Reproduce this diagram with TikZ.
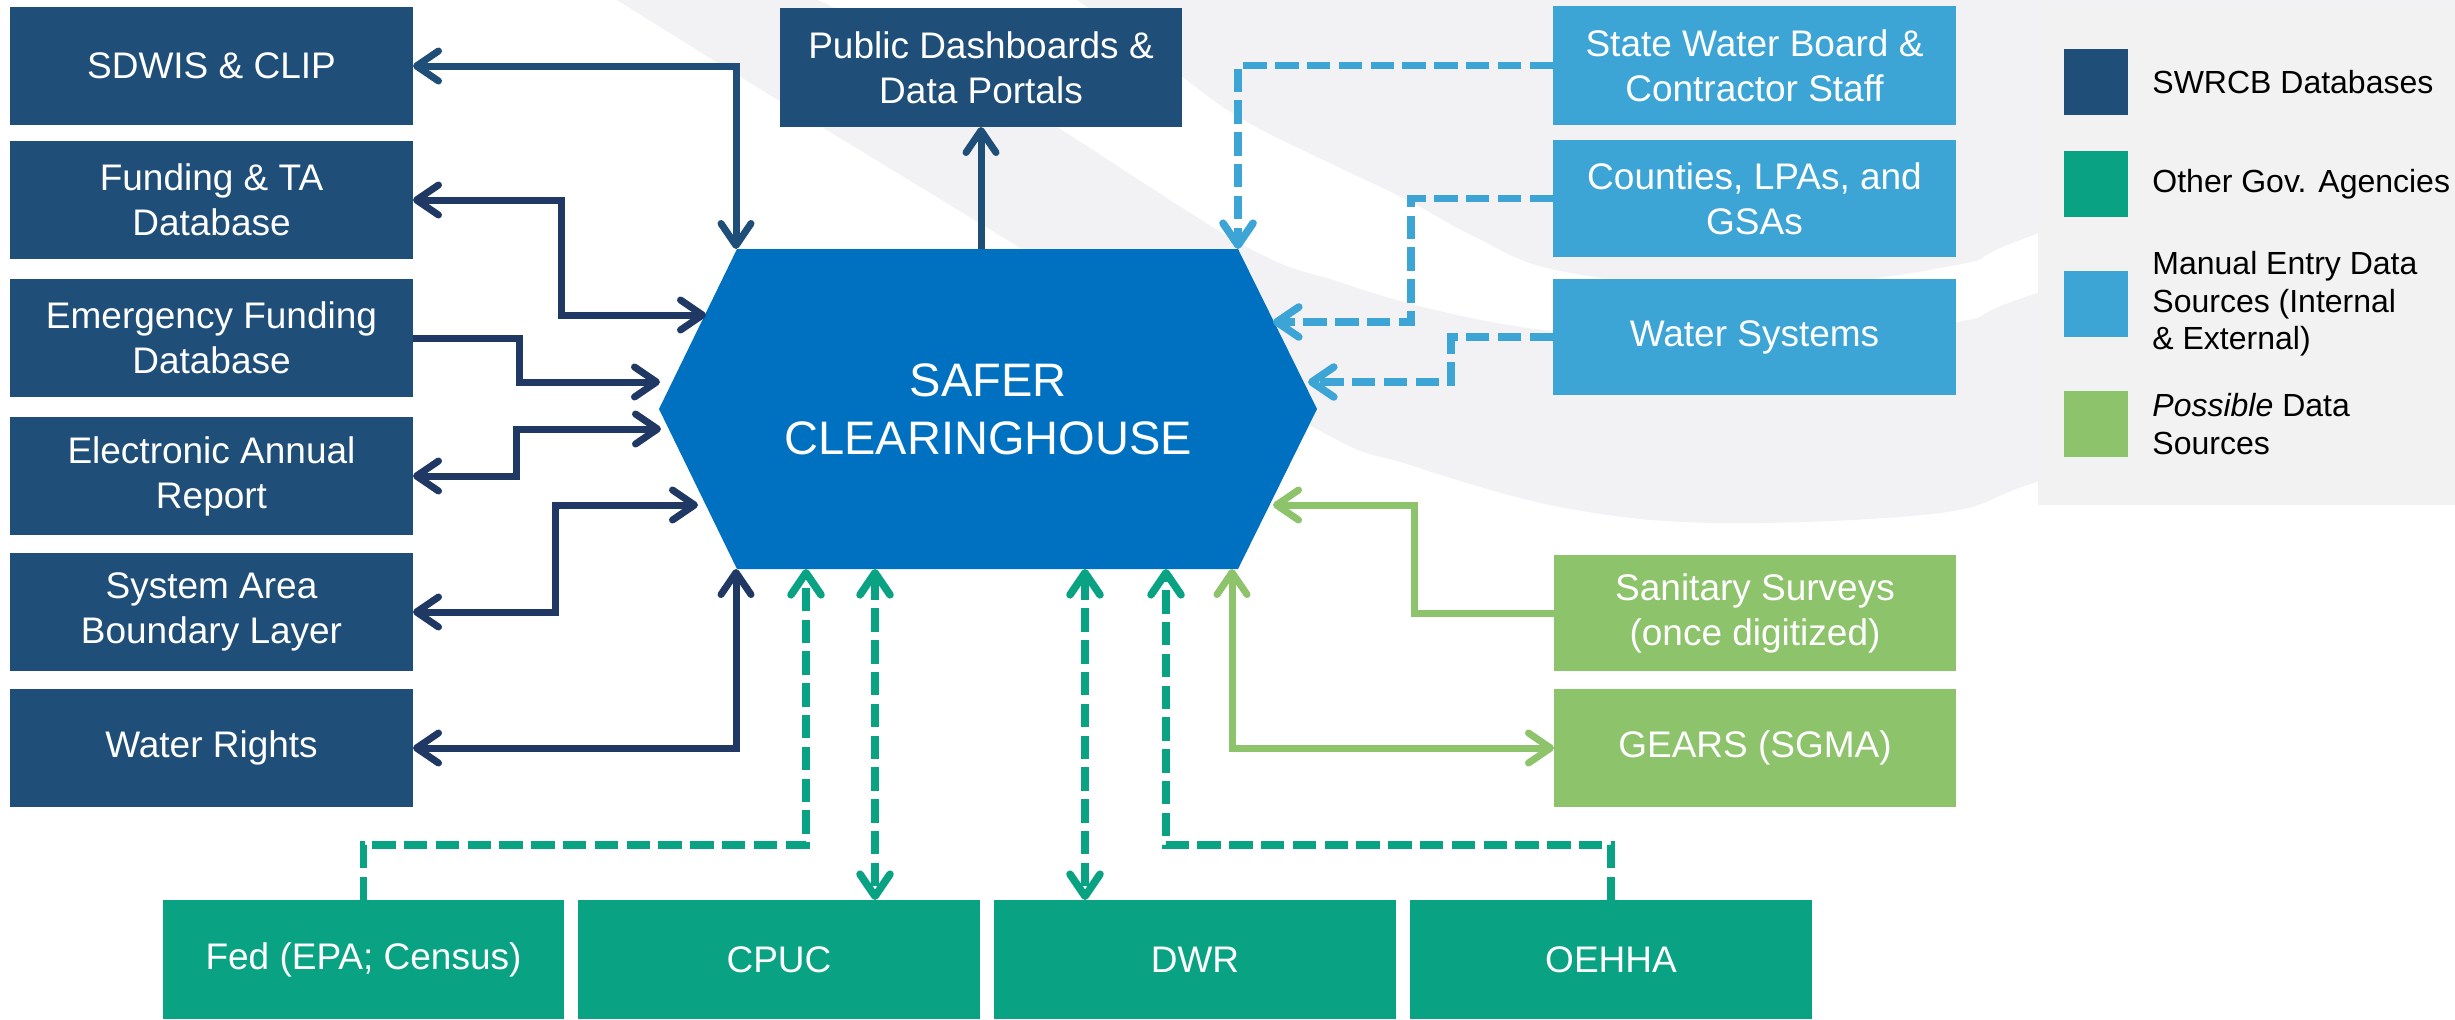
\documentclass[tikz,border=0pt]{standalone}
\usepackage{fontspec}
\setmainfont{Liberation Sans}
\usetikzlibrary{arrows.meta,calc}
\definecolor{navybox}{HTML}{1F4E79}
\definecolor{navyline}{HTML}{203864}
\definecolor{hexblue}{HTML}{0070C0}
\definecolor{lblue}{HTML}{3DA5D6}
\definecolor{teal}{HTML}{09A383}
\definecolor{lgreen}{HTML}{8DC36B}
\definecolor{bggray}{HTML}{F2F2F4}
\definecolor{leggray}{HTML}{F2F2F2}
\newcommand\bxfont{\fontsize{18.5}{22.5}\selectfont}
\newcommand\hubfont{\fontsize{23.5}{29}\selectfont}
\newcommand\legfont{\fontsize{16}{18.75}\selectfont}
\tikzset{
  bx/.style={rectangle, inner sep=0pt, outer sep=0pt, anchor=north west, align=center,
    text=white, font=\bxfont, minimum width=201.5pt, minimum height=59pt},
  conn/.style={line width=3.5pt},
  dconn/.style={line width=3.8pt, dash pattern=on 11.7pt off 4.2pt},
  legsq/.style={rectangle, inner sep=0pt, minimum width=32pt, minimum height=33pt},
  legtxt/.style={anchor=west, align=left, inner sep=0pt, font=\legfont, text=black},
  >={Straight Barb[length=11pt,width=15pt,round]}
}
\begin{document}
\begin{tikzpicture}[x=0.5pt,y=-0.5pt]
\useasboundingbox (0,0) rectangle (2455,1019);
\fill[white] (0,0) rectangle (2455,1019);
% background swoosh
\fill[bggray] plot[smooth, tension=0.6] coordinates {(617,0) (778,100) (1050,266) (1317,429) (1407,464) (1560,507) (1717,523) (1940,513) (2037,482) (2250,420) (2455,340)} -- (2455,0) -- cycle;
\fill[white] plot[smooth, tension=0.6] coordinates {(1077,0) (1160,60) (1240,118) (1340,168) (1407,200) (1473,236) (1560,271) (1750,290) (1957,265) (2037,234) (2455,90)}
  -- plot[smooth, tension=0.6] coordinates {(2455,160) (2037,293) (1957,322) (1750,345) (1560,332) (1440,311) (1340,282) (1240,243) (1000,92) (818,0)} -- cycle;
% legend panel
\fill[leggray] (2038,5) rectangle (2455,505);
\node[legsq, fill=navybox] (sq1) at (2096,82) {};
\node[legsq, fill=teal] (sq2) at (2096,184) {};
\node[legsq, fill=lblue] (sq3) at (2096,304) {};
\node[legsq, fill=lgreen] (sq4) at (2096,424) {};
\node[legtxt] (lt1) at (2152,82) {SWRCB Databases};
\node[legtxt] (lt2) at (2152,184) {Other Gov. Agencies};
\node[legtxt] (lt3) at (2152,304) {Manual Entry Data\\Sources (Internal\\\& External)};
\node[legtxt] (lt4) at (2152,424) {\textit{Possible} Data\\Sources};
% hexagon
\coordinate (hTL) at (737,249);
\coordinate (hTR) at (1238,249);
\coordinate (hR) at (1317,409);
\coordinate (hBR) at (1238,569);
\coordinate (hBL) at (737,569);
\coordinate (hL) at (659,409);
\fill[hexblue] (hTL) -- (hTR) -- (hR) -- (hBR) -- (hBL) -- (hL) -- cycle;
\node[text=white, font=\hubfont, align=center, inner sep=0pt] (hub) at (988,409) {SAFER\\CLEARINGHOUSE};
% ports on hexagon
\coordinate (pTL) at (736,249);
\coordinate (pL1) at (706,315);
\coordinate (pL2) at (660,382);
\coordinate (pL3) at (661,429);
\coordinate (pL4) at (698,505);
\coordinate (pBL) at (736,569);
\coordinate (pT) at (981,249);
\coordinate (pTR) at (1238,249);
\coordinate (pR1) at (1273,322);
\coordinate (pR2) at (1308,382);
\coordinate (pR3) at (1273,505);
\coordinate (pB1) at (806,569);
\coordinate (pB2) at (875,569);
\coordinate (pB3) at (1085,569);
\coordinate (pB4) at (1166,569);
\coordinate (pBR) at (1232,569);
% left boxes
\node[bx, fill=navybox] (sdwis) at (10,7) {SDWIS \& CLIP};
\node[bx, fill=navybox] (fund) at (10,141) {Funding \& TA\\Database};
\node[bx, fill=navybox] (emer) at (10,279) {Emergency Funding\\Database};
\node[bx, fill=navybox] (elec) at (10,417) {Electronic Annual\\Report};
\node[bx, fill=navybox] (sys) at (10,553) {System Area\\Boundary Layer};
\node[bx, fill=navybox] (wr) at (10,689) {Water Rights};
% top box
\node[bx, fill=navybox, minimum width=201pt, minimum height=59.5pt] (pub) at (780,8) {Public Dashboards \&\\Data Portals};
% right boxes
\node[bx, fill=lblue, minimum height=59.5pt] (state) at (1553,6) {State Water Board \&\\Contractor Staff};
\node[bx, fill=lblue, minimum height=58.5pt] (coun) at (1553,140) {Counties, LPAs, and\\GSAs};
\node[bx, fill=lblue, minimum height=58pt] (wsys) at (1553,279) {Water Systems};
\node[bx, fill=lgreen, minimum width=201pt, minimum height=58pt] (san) at (1554,555) {Sanitary Surveys\\(once digitized)};
\node[bx, fill=lgreen, minimum width=201pt, minimum height=59pt] (gears) at (1554,689) {GEARS (SGMA)};
% bottom boxes
\node[bx, fill=teal, minimum width=200.5pt, minimum height=59.5pt] (fed) at (163,900) {Fed (EPA; Census)};
\node[bx, fill=teal, minimum width=201pt, minimum height=59.5pt] (cpuc) at (578,900) {CPUC};
\node[bx, fill=teal, minimum width=201pt, minimum height=59.5pt] (dwr) at (994,900) {DWR};
\node[bx, fill=teal, minimum width=201pt, minimum height=59.5pt] (oeh) at (1410,900) {OEHHA};
% left connectors
\draw[conn, navybox, <->] (sdwis.east) -| (pTL);
\draw[conn, navyline, <->] (fund.east) -- ++(148,0) |- (pL1);
\draw[conn, navyline, ->] (emer.east) -- ++(106,0) |- (pL2);
\draw[conn, navyline, <->] (elec.east) -- ++(103,0) |- (pL3);
\draw[conn, navyline, <->] (sys.east) -- ++(142,0) |- (pL4);
\draw[conn, navyline, <->] (wr.east) -| (pBL);
\draw[conn, navybox, ->] (pT) -- (pT |- pub.south);
% right connectors
\draw[dconn, lblue, ->] (state.west) -| (pTR);
\draw[dconn, lblue, ->] (coun.west) -- ++(-142,0) |- (pR1);
\draw[dconn, lblue, ->] (wsys.west) -- ++(-102,0) |- (pR2);
\draw[conn, lgreen, ->] (san.west) -- ++(-140,0) |- (pR3);
\draw[conn, lgreen, <->] (pBR) |- (gears.west);
% bottom connectors
\draw[dconn, teal, ->] (fed.north) -- ++(0,-55) -| (pB1);
\draw[dconn, teal, <->] (pB2) -- (pB2 |- cpuc.north);
\draw[dconn, teal, <->] (pB3) -- (pB3 |- dwr.north);
\draw[dconn, teal, ->] (oeh.north) -- ++(0,-55) -| (pB4);
\end{tikzpicture}
\end{document}
